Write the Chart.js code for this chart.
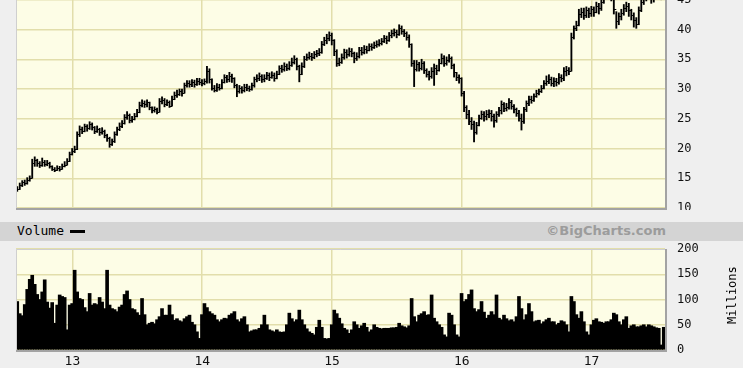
<!DOCTYPE html>
<html>
<head>
<meta charset="utf-8">
<script src="https://cdn.jsdelivr.net/npm/chart.js@4.4.1/dist/chart.umd.min.js"></script>
<style>
body { margin:0; width:743px; height:368px; overflow:hidden; position:relative; background:#efefef; font-family:"DejaVu Sans Mono", monospace; }
#priceChart { position:absolute; left:0; top:-40px; }
#volChart { position:absolute; left:0; top:241px; }
#band { position:absolute; left:0; top:222px; width:743px; height:19px; background:#d4d4d4; }
#volLabel { position:absolute; left:17px; top:1px; font-size:13px; color:#000; }
#volDash { position:absolute; left:70px; top:8px; width:15px; height:3px; background:#000; }
#credit { position:absolute; right:77px; top:1px; font:bold 13px "DejaVu Sans", sans-serif; color:#9c9c9c; }
#millions { position:absolute; left:704px; top:289px; width:56px; text-align:center; font-size:12px; transform:rotate(-90deg); }
</style>
</head>
<body>
<canvas id="priceChart" width="743" height="250"></canvas>
<div id="band"><span id="volLabel">Volume</span><span id="volDash"></span><span id="credit">©BigCharts.com</span></div>
<canvas id="volChart" width="743" height="127"></canvas>
<div id="millions">Millions</div>
<script>
/*
 * 周线数据：最低价、最高价、收盘价、成交量(百万)。
 */
var startYear = 2012.575;
var yearTicks = [2013, 2014, 2015, 2016, 2017];
var yearLabels = ['13', '14', '15', '16', '17'];
var priceTicks = [10, 15, 20, 25, 30, 35, 40, 45, 50];
var volTicks = [0, 50, 100, 150, 200];

var closes = [
	13.2, 13.9, 14.3, 14.2, 14.7, 15.0, 17.6, 18.0, 17.6, 17.2,
	17.8, 17.4, 17.6, 17.0, 16.6, 16.4, 16.8, 16.6, 17.0, 17.3,
	17.9, 19.1, 19.6, 19.9, 22.4, 23.3, 23.0, 23.7, 23.4, 24.1,
	23.6, 23.0, 23.3, 22.7, 23.0, 22.2, 21.8, 20.8, 21.2, 22.4,
	23.2, 23.8, 24.3, 25.3, 25.6, 24.8, 24.9, 25.4, 26.2, 27.3,
	27.6, 27.4, 27.8, 26.9, 26.4, 26.6, 26.2, 28.0, 28.2, 27.4,
	27.8, 27.2, 28.4, 29.0, 29.2, 29.6, 29.4, 30.6, 31.0, 30.8,
	31.2, 30.8, 31.4, 31.2, 31.0, 31.3, 33.0, 31.6, 30.2, 29.9,
	30.4, 30.2, 31.2, 32.0, 31.6, 32.2, 31.8, 30.6, 29.6, 30.2,
	29.8, 30.4, 30.2, 30.0, 30.6, 31.6, 31.8, 32.2, 31.6, 31.9,
	32.3, 32.0, 32.4, 31.8, 32.6, 33.5, 33.3, 33.9, 33.6, 34.1,
	34.6, 35.0, 33.8, 32.6, 33.8, 35.0, 35.4, 35.6, 35.3, 35.8,
	36.0, 36.3, 37.6, 38.2, 38.6, 39.1, 38.2, 36.4, 34.4, 34.6,
	35.4, 36.2, 35.8, 36.4, 36.0, 35.2, 35.6, 36.6, 36.2, 36.8,
	36.6, 37.2, 37.0, 37.4, 37.6, 37.8, 38.0, 38.6, 38.2, 39.0,
	39.4, 39.6, 39.2, 40.3, 39.8, 39.4, 38.8, 37.6, 34.4, 33.4,
	34.2, 33.6, 34.4, 33.2, 32.6, 32.2, 33.0, 33.6, 33.2, 34.4,
	35.2, 34.4, 34.8, 35.2, 34.0, 32.8, 32.0, 31.8, 29.4, 27.0,
	25.8, 24.6, 24.2, 22.8, 24.0, 25.2, 25.8, 25.4, 25.8, 26.0,
	25.4, 24.8, 25.8, 26.4, 27.4, 26.8, 27.0, 27.8, 27.2, 26.6,
	26.0, 25.2, 24.6, 26.6, 27.6, 28.4, 28.2, 28.8, 29.4, 29.6,
	30.2, 31.0, 31.4, 31.6, 31.0, 31.4, 31.2, 32.0, 31.8, 33.0,
	33.2, 33.0, 38.8, 40.2, 40.8, 42.6, 43.0, 42.4, 43.2, 42.8,
	43.4, 43.0, 44.0, 43.6, 44.6, 45.6, 46.4, 46.8, 45.8, 43.4,
	41.4, 42.2, 42.8, 43.6, 44.0, 43.2, 42.4, 41.6, 41.0, 43.2,
	44.6, 45.2, 45.8, 46.0, 45.2, 45.6, 46.0, 46.4, 45.8, 46.2
];
var lows = [
	12.8, 13.1, 13.6, 13.8, 14.0, 14.5, 15.0, 17.0, 17.0, 16.8,
	17.0, 17.0, 17.1, 16.7, 16.3, 16.1, 16.3, 16.2, 16.5, 16.9,
	17.2, 17.8, 18.9, 19.3, 19.8, 22.0, 22.5, 22.8, 22.9, 23.2,
	23.1, 22.5, 22.7, 22.2, 22.4, 21.8, 21.2, 20.2, 20.5, 21.0,
	22.2, 23.0, 23.5, 24.1, 24.9, 24.3, 24.4, 24.8, 25.3, 26.0,
	27.0, 26.9, 27.0, 26.5, 26.0, 26.1, 25.8, 26.1, 27.5, 27.0,
	27.2, 26.9, 27.1, 28.2, 28.6, 28.9, 28.8, 29.3, 30.3, 30.3,
	30.4, 30.3, 30.6, 30.7, 30.5, 30.7, 31.0, 31.0, 29.8, 29.5,
	29.6, 29.8, 30.0, 31.0, 31.1, 31.2, 31.1, 30.2, 28.7, 29.3,
	29.3, 29.5, 29.7, 29.6, 29.8, 30.3, 31.2, 31.4, 31.1, 31.2,
	31.6, 31.4, 31.8, 31.3, 31.7, 32.4, 32.8, 33.0, 33.1, 33.2,
	33.8, 34.2, 33.2, 31.2, 32.4, 33.6, 34.8, 35.0, 34.8, 35.1,
	35.4, 35.6, 36.0, 37.3, 37.6, 38.1, 37.4, 35.6, 33.8, 33.9,
	34.3, 35.0, 35.2, 35.5, 35.4, 34.4, 34.8, 35.2, 35.7, 35.9,
	36.0, 36.4, 36.5, 36.8, 37.0, 37.2, 37.4, 37.8, 37.6, 38.0,
	38.6, 38.9, 38.6, 39.0, 39.2, 38.8, 38.2, 37.0, 33.8, 30.4,
	33.0, 33.0, 33.2, 32.6, 32.0, 31.5, 31.8, 30.6, 32.4, 33.0,
	34.2, 33.8, 34.0, 34.5, 33.4, 32.0, 31.4, 31.0, 28.8, 26.2,
	25.0, 24.0, 23.2, 21.1, 22.4, 23.8, 24.9, 24.6, 24.8, 25.2,
	24.6, 23.6, 24.4, 25.4, 25.8, 26.2, 26.3, 26.6, 26.6, 26.0,
	25.4, 24.6, 23.1, 24.2, 26.2, 27.2, 27.6, 27.9, 28.6, 29.0,
	29.4, 30.0, 30.6, 30.9, 30.5, 30.4, 30.5, 30.8, 31.2, 31.4,
	32.2, 32.4, 33.0, 38.4, 39.8, 40.6, 42.0, 41.7, 42.0, 42.0,
	42.2, 42.2, 42.8, 42.6, 43.2, 44.4, 45.2, 45.8, 44.8, 42.6,
	40.2, 40.8, 41.6, 42.4, 43.0, 42.2, 41.6, 40.4, 40.2, 40.8,
	43.0, 44.2, 44.8, 45.2, 44.4, 44.6, 45.2, 45.6, 45.0, 45.4
];
var highs = [
	13.6, 14.2, 14.6, 14.7, 15.1, 15.4, 18.2, 18.6, 18.2, 17.8,
	18.4, 18.0, 18.0, 17.7, 17.1, 16.8, 17.1, 17.0, 17.4, 17.8,
	18.3, 19.4, 20.0, 20.4, 22.8, 23.8, 23.6, 24.1, 24.0, 24.5,
	24.3, 23.7, 23.8, 23.4, 23.5, 23.1, 22.4, 21.9, 21.6, 22.8,
	23.6, 24.3, 24.7, 25.7, 26.2, 25.8, 25.4, 25.9, 26.6, 27.8,
	28.2, 28.0, 28.2, 27.8, 27.0, 27.0, 26.8, 28.4, 28.7, 28.4,
	28.2, 28.0, 28.8, 29.5, 29.8, 30.0, 30.0, 31.0, 31.4, 31.4,
	31.6, 31.5, 31.8, 31.8, 31.6, 31.7, 33.8, 33.4, 31.7, 30.6,
	30.9, 30.8, 31.6, 32.4, 32.3, 32.8, 32.5, 31.9, 30.8, 30.6,
	30.4, 30.8, 30.8, 30.5, 31.0, 32.0, 32.4, 32.7, 32.4, 32.4,
	32.8, 32.7, 32.9, 32.7, 33.0, 33.9, 34.0, 34.4, 34.2, 34.6,
	35.2, 35.6, 35.2, 34.0, 34.4, 35.5, 35.9, 36.2, 36.0, 36.3,
	36.5, 36.8, 38.0, 38.7, 39.2, 39.6, 39.4, 38.3, 36.6, 35.2,
	35.9, 36.7, 36.6, 36.9, 36.8, 36.2, 36.1, 37.0, 37.0, 37.3,
	37.2, 37.6, 37.6, 37.9, 38.1, 38.3, 38.5, 39.0, 38.9, 39.5,
	39.9, 40.1, 39.9, 40.8, 40.6, 40.0, 39.6, 39.1, 37.6, 34.8,
	34.8, 34.5, 35.0, 34.6, 33.4, 33.0, 33.6, 34.2, 34.0, 35.0,
	35.9, 35.6, 35.4, 35.8, 35.4, 34.2, 32.8, 32.4, 31.9, 29.6,
	27.2, 26.4, 25.2, 24.6, 24.4, 25.6, 26.3, 26.2, 26.4, 26.5,
	26.4, 25.8, 26.2, 26.9, 28.0, 27.7, 27.6, 28.4, 28.1, 27.4,
	26.8, 26.4, 25.8, 26.9, 28.0, 28.8, 28.8, 29.2, 29.8, 30.0,
	30.6, 31.4, 32.2, 32.4, 32.0, 31.9, 31.8, 32.6, 32.4, 33.6,
	33.8, 33.6, 39.4, 40.6, 41.4, 43.4, 43.6, 43.6, 43.8, 43.6,
	43.9, 43.8, 44.6, 44.4, 45.2, 46.2, 47.0, 47.4, 47.0, 46.0,
	43.0, 42.8, 43.4, 44.2, 44.6, 44.4, 43.4, 42.8, 42.0, 43.8,
	45.2, 45.8, 46.4, 46.8, 46.2, 46.2, 46.6, 47.0, 46.6, 46.8
];
var volumes = [
	96, 72, 68, 90, 120, 140, 148, 130, 110, 100,
	115, 139, 95, 83, 94, 53, 89, 109, 106, 104,
	40, 89, 92, 158, 115, 102, 100, 84, 76, 112,
	89, 92, 90, 104, 95, 82, 158, 89, 82, 80,
	76, 85, 89, 110, 117, 100, 82, 80, 74, 69,
	102, 70, 50, 53, 55, 52, 60, 66, 82, 69,
	69, 89, 70, 59, 62, 58, 56, 62, 66, 69,
	55, 50, 36, 23, 70, 92, 84, 76, 72, 69,
	60, 56, 60, 63, 62, 69, 72, 76, 60, 56,
	62, 66, 50, 36, 38, 40, 40, 43, 50, 69,
	50, 40, 38, 36, 40, 36, 35, 36, 50, 73,
	62, 56, 60, 79, 60, 50, 42, 36, 33, 30,
	45, 59, 45, 23, 22, 23, 50, 79, 72, 63,
	52, 43, 40, 33, 40, 56, 50, 43, 48, 53,
	45, 36, 40, 50, 45, 43, 42, 43, 43, 43,
	44, 44, 45, 53, 48, 46, 44, 48, 102, 66,
	56, 69, 72, 76, 69, 70, 109, 63, 56, 50,
	45, 30, 26, 73, 69, 50, 30, 26, 112, 96,
	100, 110, 119, 82, 76, 80, 96, 75, 63, 69,
	76, 70, 109, 63, 60, 69, 62, 58, 60, 56,
	66, 106, 82, 60, 70, 92, 76, 56, 58, 59,
	52, 56, 60, 63, 56, 56, 50, 53, 58, 56,
	50, 36, 106, 96, 70, 63, 76, 56, 36, 30,
	50, 59, 62, 56, 55, 53, 56, 56, 60, 73,
	70, 56, 50, 60, 66, 43, 48, 50, 46, 46,
	48, 50, 46, 50, 48, 46, 44, 43, 10, 45
];

// 每周在时间轴上的位置（以年为单位）
var weekX = [];
for (var i = 0; i < closes.length; i++) {
	weekX.push(startYear + i / 52);
}
var xMin = startYear - 0.5 / 52;
var xMax = startYear + (closes.length - 0.5) / 52;

var plotBg = '#fdfde6';
var gridColor = '#e2deab';

Chart.defaults.font.family = '"DejaVu Sans Mono", monospace';
Chart.defaults.font.size = 12;
Chart.defaults.color = '#111';

/*
 * 绘图区背景和边框。
 */
var framePlugin = {
	id : 'frame',
	beforeDraw : function(chart) {
		var a = chart.chartArea;
		var ctx = chart.ctx;
		ctx.save();
		ctx.fillStyle = plotBg;
		ctx.fillRect(a.left, a.top, a.right - a.left, a.bottom - a.top);
		ctx.restore();
	},
	afterDraw : function(chart) {
		var a = chart.chartArea;
		var ctx = chart.ctx;
		ctx.save();
		ctx.strokeStyle = '#cfcfcf';
		ctx.lineWidth = 1;
		ctx.beginPath();
		ctx.moveTo(a.left + 0.5, a.bottom);
		ctx.lineTo(a.left + 0.5, a.top + 0.5);
		ctx.lineTo(a.right, a.top + 0.5);
		ctx.stroke();
		ctx.strokeStyle = '#a3a3a3';
		ctx.lineWidth = 2;
		ctx.beginPath();
		ctx.moveTo(a.left, a.bottom + 1);
		ctx.lineTo(a.right + 1, a.bottom + 1);
		ctx.lineTo(a.right + 1, a.top);
		ctx.stroke();
		ctx.restore();
	}
};

/*
 * 开盘/收盘的小横线。
 */
var ohlcPlugin = {
	id : 'ohlcTicks',
	afterDatasetsDraw : function(chart) {
		var xs = chart.scales.x, ys = chart.scales.y;
		var a = chart.chartArea;
		var ctx = chart.ctx;
		ctx.save();
		ctx.beginPath();
		ctx.rect(a.left, a.top, a.right - a.left, a.bottom - a.top);
		ctx.clip();
		ctx.strokeStyle = '#000';
		ctx.lineWidth = 1;
		ctx.beginPath();
		for (var i = 0; i < closes.length; i++) {
			var px = xs.getPixelForValue(weekX[i]);
			var cy = Math.round(ys.getPixelForValue(closes[i])) + 0.5;
			ctx.moveTo(px, cy);
			ctx.lineTo(px + 1.5, cy);
			if (i > 0) {
				var oy = Math.round(ys.getPixelForValue(closes[i - 1])) + 0.5;
				ctx.moveTo(px - 1.5, oy);
				ctx.lineTo(px, oy);
			}
		}
		ctx.stroke();
		ctx.restore();
	}
};

function fixWidth(w) {
	return function(scale) {
		scale.width = w;
		scale.paddingTop = 0;
		scale.paddingBottom = 0;
	};
}
function fixHeight(h) {
	return function(scale) {
		scale.height = h;
		scale.paddingLeft = 0;
		scale.paddingRight = 0;
	};
}
function setYearTicks(scale) {
	scale.ticks = yearTicks.map(function(v) { return { value : v }; });
}
function setTicks(list) {
	return function(scale) {
		scale.ticks = list.map(function(v) { return { value : v }; });
	};
}

var priceData = [];
for (var i = 0; i < closes.length; i++) {
	priceData.push({ x : weekX[i], y : [lows[i], highs[i]] });
}
var volData = [];
for (var i = 0; i < volumes.length; i++) {
	volData.push({ x : weekX[i], y : volumes[i] });
}

function xAxis(h, showLabels) {
	return {
		type : 'linear', min : xMin, max : xMax, offset : false,
		afterBuildTicks : setYearTicks,
		afterFit : fixHeight(h),
		ticks : {
			display : showLabels, padding : 4, font : { size : 13 },
			callback : function(v) { return yearLabels[yearTicks.indexOf(v)]; }
		},
		grid : { color : gridColor, lineWidth : 1.5, drawTicks : false, offset : false },
		border : { display : false }
	};
}
function yAxis(min, max, list) {
	return {
		position : 'right', min : min, max : max,
		afterBuildTicks : setTicks(list),
		afterFit : fixWidth(78),
		ticks : { padding : 12 },
		grid : { color : gridColor, lineWidth : 1.5, drawTicks : false },
		border : { display : false }
	};
}

var priceConfig = {
	type : 'bar',
	data : {
		datasets : [ {
			data : priceData,
			backgroundColor : '#000',
			barThickness : 1.2,
			borderWidth : 0
		} ]
	},
	options : {
		responsive : false,
		animation : false,
		layout : { padding : { left : 16, top : 10, right : 0, bottom : 2 } },
		plugins : { legend : { display : false }, tooltip : { enabled : false } },
		scales : { x : xAxis(0, false), y : yAxis(10, 50, priceTicks) }
	},
	plugins : [ framePlugin, ohlcPlugin ]
};

var volConfig = {
	type : 'bar',
	data : {
		datasets : [ {
			data : volData,
			backgroundColor : '#000',
			barThickness : 3,
			borderWidth : 0
		} ]
	},
	options : {
		responsive : false,
		animation : false,
		layout : { padding : { left : 16, top : 8, right : 0, bottom : 0 } },
		plugins : { legend : { display : false }, tooltip : { enabled : false } },
		scales : { x : xAxis(18, true), y : yAxis(0, 200, volTicks) }
	},
	plugins : [ framePlugin ]
};

window.onload = function() {
	new Chart(document.getElementById('priceChart').getContext('2d'), priceConfig);
	new Chart(document.getElementById('volChart').getContext('2d'), volConfig);
};
</script>
</body>
</html>
